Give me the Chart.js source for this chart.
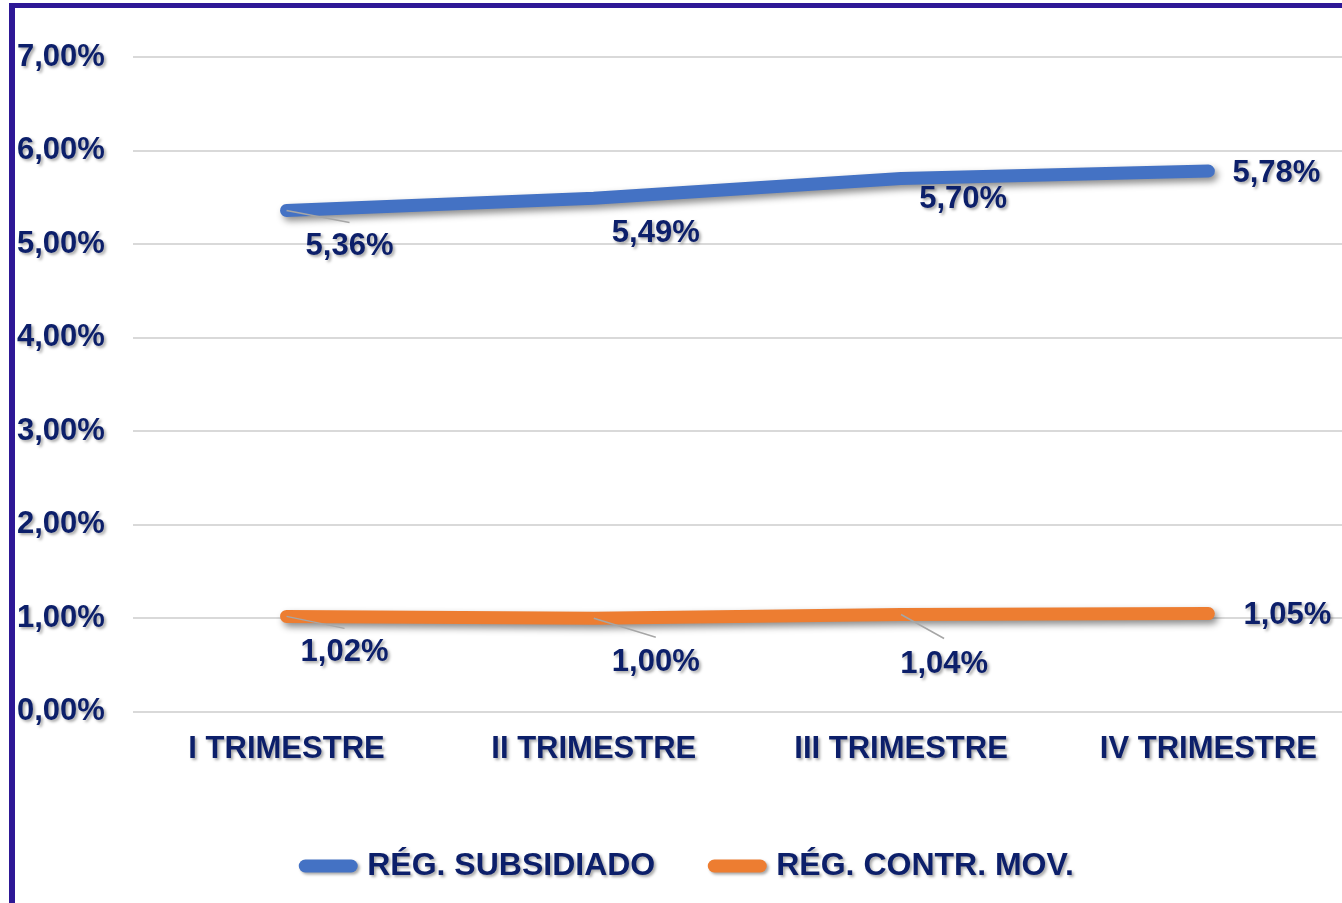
<!DOCTYPE html>
<html>
<head>
<meta charset="utf-8">
<script src="https://cdn.jsdelivr.net/npm/chart.js@4.4.1/dist/chart.umd.min.js"></script>
<style>
  html, body { margin: 0; padding: 0; background: #fff; overflow: hidden; }
  #wrap { position: relative; width: 1342px; height: 903px; overflow: hidden; }
  #frame {
    position: absolute; left: 9px; top: 3px; right: -20px; bottom: -20px;
    border-left: 6px solid #2e1896; border-top: 5px solid #2e1896;
    pointer-events: none;
  }
  canvas { position: absolute; left: 0; top: 0; }
</style>
</head>
<body>
<div id="wrap">
  <canvas id="chart" width="1362" height="903"></canvas>
  <div id="frame"></div>
</div>
<script>
// ---- data ----
const categories = ['I TRIMESTRE', 'II TRIMESTRE', 'III TRIMESTRE', 'IV TRIMESTRE'];
const seriesNames = ['RÉG. SUBSIDIADO', 'RÉG. CONTR. MOV.'];
const subsidiado = [5.36, 5.49, 5.70, 5.78];
const contributivo = [1.02, 1.00, 1.04, 1.05];
const yTicks = [0, 1, 2, 3, 4, 5, 6, 7];

// label placement relative to each point: [dx, dy, leaderDy or null]
const labelOffsets = [
    [[63, 36, 12], [62, 35, null], [62, 21, null], [68, 2, null]],
    [[58, 36, 12], [62, 44, 19], [43, 50, 24], [79, 2, null]]
];

const NAVY = '#0c1f6a';
const FONT = '"Liberation Sans", Arial, sans-serif';
const fmt = v => v.toFixed(2).replace('.', ',') + '%';

function textShadow(ctx) {
    ctx.shadowColor = 'rgba(0,0,0,0.35)';
    ctx.shadowBlur = 3;
    ctx.shadowOffsetX = 2;
    ctx.shadowOffsetY = 2;
}

// shadow under the two lines
const lineShadow = {
    id: 'lineShadow',
    beforeDatasetDraw(chart) {
        const ctx = chart.ctx;
        ctx.save();
        ctx.shadowColor = 'rgba(0,0,0,0.45)';
        ctx.shadowBlur = 7;
        ctx.shadowOffsetX = 3;
        ctx.shadowOffsetY = 4;
    },
    afterDatasetDraw(chart) {
        chart.ctx.restore();
    }
};

// soft shadow on tick labels and legend
const textShadows = {
    id: 'textShadows',
    beforeDraw(chart) {
        const ctx = chart.ctx;
        Object.values(chart.scales).forEach(s => {
            if (s._shadowed) return;
            const orig = s.drawLabels;
            s.drawLabels = function (area) {
                ctx.save();
                textShadow(ctx);
                orig.call(this, area);
                ctx.restore();
            };
            s._shadowed = true;
        });
        const lg = chart.legend;
        if (lg && !lg._shadowed) {
            const origDraw = lg.draw;
            lg.draw = function (area) {
                ctx.save();
                textShadow(ctx);
                origDraw.call(this, area);
                ctx.restore();
            };
            lg._shadowed = true;
        }
    }
};

// value labels with leader lines
const valueLabels = {
    id: 'valueLabels',
    afterDatasetsDraw(chart) {
        const ctx = chart.ctx;
        chart.data.datasets.forEach((ds, di) => {
            const meta = chart.getDatasetMeta(di);
            meta.data.forEach((pt, i) => {
                const [dx, dy, ly] = labelOffsets[di][i];
                if (ly !== null) {
                    ctx.save();
                    ctx.strokeStyle = '#a6a6a6';
                    ctx.lineWidth = 1.5;
                    ctx.beginPath();
                    ctx.moveTo(pt.x, pt.y);
                    ctx.lineTo(pt.x + dx, pt.y + ly);
                    ctx.stroke();
                    ctx.restore();
                }
                ctx.save();
                textShadow(ctx);
                ctx.fillStyle = NAVY;
                ctx.font = 'bold 31px ' + FONT;
                ctx.textAlign = 'center';
                ctx.textBaseline = 'middle';
                ctx.fillText(fmt(ds.data[i]), pt.x + dx, pt.y + dy);
                ctx.restore();
            });
        });
    }
};

new Chart(document.getElementById('chart'), {
    type: 'line',
    data: {
        labels: categories,
        datasets: [
            {
                label: seriesNames[0],
                data: subsidiado,
                borderColor: '#4472c4',
                backgroundColor: '#4472c4',
                borderWidth: 13,
                pointBorderWidth: 13,
                borderCapStyle: 'round',
                borderJoinStyle: 'round',
                pointRadius: 0,
                tension: 0
            },
            {
                label: seriesNames[1],
                data: contributivo,
                borderColor: '#ed7d31',
                backgroundColor: '#ed7d31',
                borderWidth: 13,
                pointBorderWidth: 13,
                borderCapStyle: 'round',
                borderJoinStyle: 'round',
                pointRadius: 0,
                tension: 0
            }
        ]
    },
    options: {
        responsive: false,
        animation: false,
        layout: { padding: { top: 57, left: 17, right: 0, bottom: 11 } },
        plugins: {
            tooltip: { enabled: false },
            legend: {
                position: 'bottom',
                labels: {
                    usePointStyle: true,
                    pointStyle: 'line',
                    pointStyleWidth: 46,
                    padding: 59,
                    color: NAVY,
                    font: { family: FONT, size: 32, weight: 'bold' },
                    generateLabels(chart) {
                        const items = Chart.defaults.plugins.legend.labels.generateLabels(chart);
                        items.forEach(it => { it.lineCap = 'round'; it.lineWidth = 13; });
                        return items;
                    }
                }
            }
        },
        scales: {
            x: {
                offset: true,
                grid: { display: false, drawTicks: false },
                border: { display: false },
                ticks: {
                    padding: 19,
                    color: NAVY,
                    font: { family: FONT, size: 31, weight: 'bold' }
                },
                afterFit(scale) { scale.height += 4; }
            },
            y: {
                min: yTicks[0],
                max: yTicks[yTicks.length - 1],
                grid: { color: '#d9d9d9', lineWidth: 2, drawTicks: false },
                border: { display: false },
                afterBuildTicks(scale) { scale.ticks = yTicks.map(v => ({ value: v })); },
                afterFit(scale) { scale.width -= 28; },
                ticks: {
                    padding: 28,
                    color: NAVY,
                    font: { family: FONT, size: 31, weight: 'bold' },
                    callback: v => fmt(v)
                }
            }
        }
    },
    plugins: [lineShadow, textShadows, valueLabels]
});
</script>
</body>
</html>
